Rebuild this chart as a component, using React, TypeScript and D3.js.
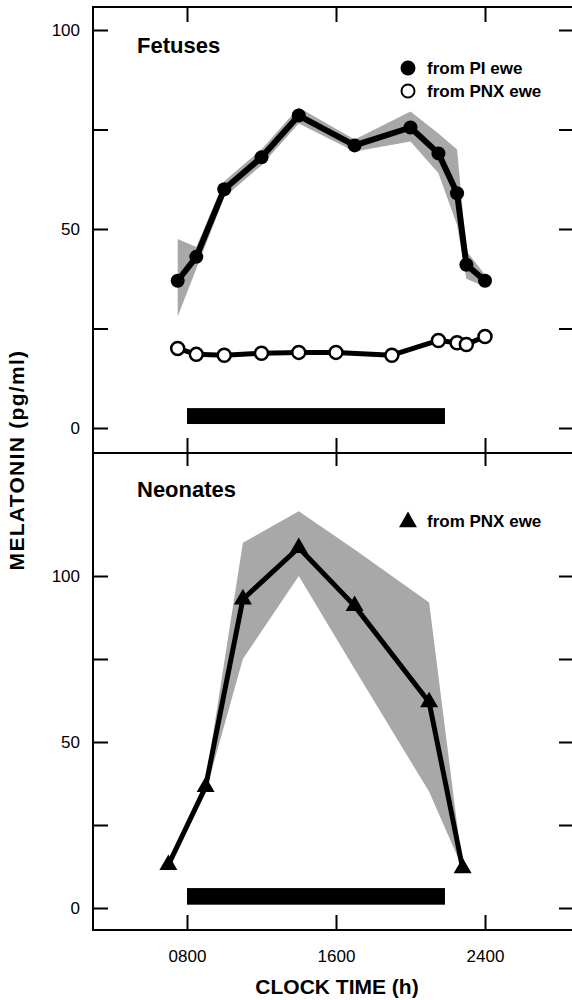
import { useEffect, useRef } from 'react'
import * as d3 from 'd3'

// Fetuses from pineal-intact (PI) ewe: mean and SEM band
const piHours = [7.5, 8.5, 10, 12, 14, 17, 20, 21.5, 22.5, 23, 24]
const piMean = [37, 43, 60, 68, 78.5, 71, 75.5, 69, 59, 41, 37]
const piUpper = [47.5, 45.5, 62, 70, 80.5, 72.5, 79.5, 74, 70, 44.5, 38.5]
const piLower = [28, 40, 58, 66, 76.5, 69.5, 72, 64, 51, 37.5, 35.5]

// Fetuses from pinealectomised (PNX) ewe
const pnxHours = [7.5, 8.5, 10, 12, 14, 16, 19, 21.5, 22.5, 23, 24]
const pnxMean = [20, 18.5, 18.3, 18.8, 19, 19, 18.3, 22, 21.4, 21, 23]

// Neonates from PNX ewe: mean and SEM band
const neoHours = [7, 9, 11, 14, 17, 21, 22.8]
const neoMean = [13, 36.5, 93, 108.5, 91, 62, 12]
const neoUpper = [13, 38, 110, 119.5, 108, 92, 12]
const neoLower = [13, 35, 75, 100, 72, 35, 12]

// dark period (h)
const darkPeriod = [8, 21.85]

const yTickValues = [0, 25, 50, 75, 100]
const yLabelValues = [0, 50, 100]
const xTickValues = [8, 16, 24]
const xTickLabels = ['0800', '1600', '2400']

const font = "'Liberation Sans', Arial, Helvetica, sans-serif"

const MelatoninChart = () => {
  const svgRef = useRef(null)

  useEffect(() => {
    const svg = d3.select(svgRef.current)
    svg.selectAll('*').remove()

    const frame = { left: 93, right: 572, top: 7, mid: 453, bottom: 930 }

    const x = d3.scaleLinear().domain([8, 24]).range([187, 485])
    const yTop = d3.scaleLinear().domain([0, 100]).range([428, 30])
    const yBot = d3.scaleLinear().domain([0, 100]).range([908, 576])

    // frame lines (no right border in the original)
    svg
      .append('path')
      .attr('d', `M${frame.right},${frame.top}H${frame.left}V${frame.bottom}H${frame.right}M${frame.left},${frame.mid}H${frame.right}`)
      .attr('fill', 'none')
      .attr('stroke', '#000')
      .attr('stroke-width', 2)

    const styleAxis = (g) => {
      g.select('.domain').remove()
      g.selectAll('line').attr('stroke', '#000').attr('stroke-width', 2)
      g.selectAll('text')
        .attr('font-family', font)
        .attr('font-size', 17)
        .attr('fill', '#000')
    }

    const labelFormat = (d) => (yLabelValues.includes(d) ? String(d) : '')

    // y axes for both panels
    ;[yTop, yBot].forEach((y) => {
      svg
        .append('g')
        .attr('transform', `translate(${frame.left},0)`)
        .call(d3.axisLeft(y).tickValues(yTickValues).tickSize(-15).tickPadding(13).tickFormat(labelFormat))
        .call(styleAxis)
      svg
        .append('g')
        .attr('transform', `translate(${frame.right},0)`)
        .call(d3.axisRight(y).tickValues(yTickValues).tickSize(-13).tickFormat(() => ''))
        .call(styleAxis)
    })

    // x ticks pointing inward on each panel edge
    svg.append('g').attr('transform', `translate(0,${frame.top})`)
      .call(d3.axisBottom(x).tickValues(xTickValues).tickSize(15).tickFormat(() => '')).call(styleAxis)
    svg.append('g').attr('transform', `translate(0,${frame.mid})`)
      .call(d3.axisTop(x).tickValues(xTickValues).tickSize(15).tickFormat(() => '')).call(styleAxis)
    svg.append('g').attr('transform', `translate(0,${frame.mid})`)
      .call(d3.axisBottom(x).tickValues(xTickValues).tickSize(13).tickFormat(() => '')).call(styleAxis)
    svg.append('g').attr('transform', `translate(0,${frame.bottom})`)
      .call(d3.axisBottom(x).tickValues(xTickValues).tickSize(-15).tickPadding(20).tickFormat((d, i) => xTickLabels[i]))
      .call(styleAxis)

    // dark period bars
    svg.append('rect')
      .attr('x', x(darkPeriod[0])).attr('width', x(darkPeriod[1]) - x(darkPeriod[0]))
      .attr('y', yTop(5)).attr('height', yTop(1) - yTop(5))
      .attr('fill', '#000')
    svg.append('rect')
      .attr('x', x(darkPeriod[0])).attr('width', x(darkPeriod[1]) - x(darkPeriod[0]))
      .attr('y', yBot(6)).attr('height', yBot(1) - yBot(6))
      .attr('fill', '#000')

    const band = (y) => d3.area().x((d) => x(d.h)).y0((d) => y(d.lo)).y1((d) => y(d.hi))
    const line = (y) => d3.line().x((d) => x(d.h)).y((d) => y(d.v))

    const piData = piHours.map((h, i) => ({ h, v: piMean[i], hi: piUpper[i], lo: piLower[i] }))
    const pnxData = pnxHours.map((h, i) => ({ h, v: pnxMean[i] }))
    const neoData = neoHours.map((h, i) => ({ h, v: neoMean[i], hi: neoUpper[i], lo: neoLower[i] }))

    // ---- Fetuses ----
    svg.append('path').datum(piData).attr('d', band(yTop)).attr('fill', '#a8a8a8')
    svg.append('path').datum(piData).attr('d', line(yTop))
      .attr('fill', 'none').attr('stroke', '#000').attr('stroke-width', 6).attr('stroke-linejoin', 'round')
    svg.selectAll('.pi-dot').data(piData).enter().append('circle')
      .attr('class', 'pi-dot')
      .attr('cx', (d) => x(d.h)).attr('cy', (d) => yTop(d.v)).attr('r', 7).attr('fill', '#000')

    svg.append('path').datum(pnxData).attr('d', line(yTop))
      .attr('fill', 'none').attr('stroke', '#000').attr('stroke-width', 5).attr('stroke-linejoin', 'round')
    svg.selectAll('.pnx-dot').data(pnxData).enter().append('circle')
      .attr('class', 'pnx-dot')
      .attr('cx', (d) => x(d.h)).attr('cy', (d) => yTop(d.v)).attr('r', 6.5)
      .attr('fill', '#fff').attr('stroke', '#000').attr('stroke-width', 2.5)

    // ---- Neonates ----
    svg.append('path').datum(neoData).attr('d', band(yBot)).attr('fill', '#a8a8a8')
    svg.append('path').datum(neoData).attr('d', line(yBot))
      .attr('fill', 'none').attr('stroke', '#000').attr('stroke-width', 5).attr('stroke-linejoin', 'round')
    const tri = d3.symbol(d3.symbolTriangle, 140)
    svg.selectAll('.neo-tri').data(neoData).enter().append('path')
      .attr('class', 'neo-tri')
      .attr('transform', (d) => `translate(${x(d.h)},${yBot(d.v)})`)
      .attr('d', tri()).attr('fill', '#000')

    // panel titles
    const addText = (tx, ty, txt, size, weight = 'bold') =>
      svg.append('text').attr('x', tx).attr('y', ty).text(txt)
        .attr('font-family', font).attr('font-size', size).attr('font-weight', weight).attr('fill', '#000')

    addText(137, 53, 'Fetuses', 22)
    addText(137, 497, 'Neonates', 22)

    // legends
    svg.append('circle').attr('cx', 408).attr('cy', 68).attr('r', 7.5).attr('fill', '#000')
    addText(427, 74, 'from PI ewe', 17)
    svg.append('circle').attr('cx', 408).attr('cy', 91).attr('r', 6.5).attr('fill', '#fff').attr('stroke', '#000').attr('stroke-width', 2)
    addText(427, 97, 'from PNX ewe', 17)
    svg.append('path').attr('transform', 'translate(408,522)').attr('d', tri()).attr('fill', '#000')
    addText(427, 527, 'from PNX ewe', 17)

    // axis titles
    addText(337, 994, 'CLOCK TIME (h)', 21).attr('text-anchor', 'middle')
    addText(0, 0, 'MELATONIN (pg/ml)', 21)
      .attr('text-anchor', 'middle')
      .attr('letter-spacing', 1.3)
      .attr('transform', 'translate(24,460) rotate(-90)')
  }, [])

  return (
    <svg
      ref={svgRef}
      width='572'
      height='1000'
      style={{ position: 'absolute', left: 0, top: 0, background: '#fff' }}
    />
  )
}

export default function App() {
  return <MelatoninChart />
}
